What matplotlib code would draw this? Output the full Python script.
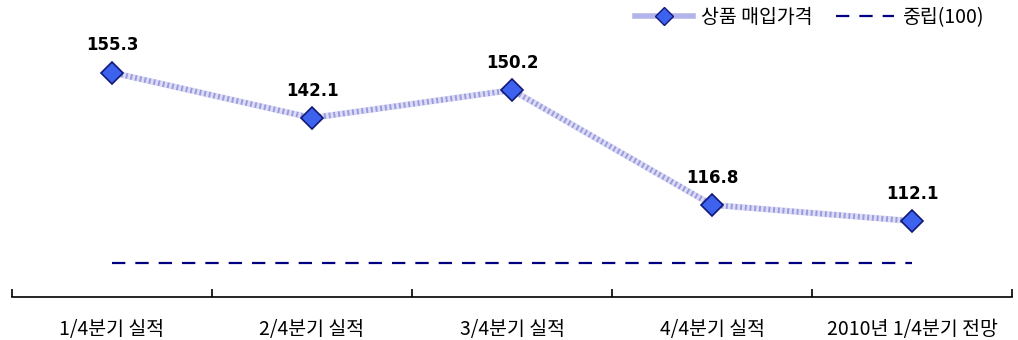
import numpy as np
import matplotlib.pyplot as plt
from matplotlib.lines import Line2D

plt.rcParams['font.family'] = ['Noto Sans CJK KR', 'DejaVu Sans']

categories = ['1/4분기 실적', '2/4분기 실적', '3/4분기 실적', '4/4분기 실적', '2010년 1/4분기 전망']
price_index = [155.3, 142.1, 150.2, 116.8, 112.1]
neutral = [100, 100, 100, 100, 100]

fig = plt.figure(figsize=(10.18, 3.40), dpi=100)
ax = fig.add_axes([12 / 1018, 43 / 340, 1000 / 1018, 275 / 340])

x = np.arange(len(categories))

# pale base + dotted texture on top, then markers
ax.plot(x, price_index, color='#dcdcf5', lw=4.5, solid_capstyle='butt', zorder=2)
ax.plot(x, price_index, color='#9a9ade', lw=4, ls=(0, (0.35, 0.5)), zorder=2)
ax.plot(x, price_index, ls='none', marker='D', ms=11.5, mfc='#3d63ee', mec='#10187a', mew=1.2, zorder=3)
ax.plot(x, neutral, color='#000080', lw=1.6, ls=(0, (6, 4.5)), zorder=2)

for xi, v in zip(x, price_index):
    ax.annotate(f'{v:.1f}', (xi, v), xytext=(0, 13), textcoords='offset points',
                ha='center', va='bottom', fontsize=12, fontweight='bold',
                family=['DejaVu Sans'], color='black')

ax.set_xlim(-0.5, len(categories) - 0.5)
ax.set_ylim(90, 170)

for s in ['left', 'right', 'top']:
    ax.spines[s].set_visible(False)
ax.spines['bottom'].set_linewidth(1.2)
ax.set_yticks([])

ax.set_xticks(np.arange(-0.5, len(categories), 1.0))
ax.set_xticklabels([])
ax.tick_params(axis='x', which='major', direction='in', length=6, width=1.2)
ax.set_xticks(x, minor=True)
ax.set_xticklabels(categories, minor=True, fontsize=14)
ax.tick_params(axis='x', which='minor', length=0, pad=16)

# legend
h1 = Line2D([], [], color='#b4b4ea', lw=4, marker='D', ms=9, mfc='#3d63ee', mec='#10187a')
h2 = Line2D([], [], color='#000080', lw=1.6, ls=(0, (6, 4.5)))
fig.legend([h1, h2], ['상품 매입가격', '중립(100)'], loc='upper right',
           bbox_to_anchor=(0.983, 1.03), ncol=2, frameon=False, fontsize=14,
           handlelength=3.0, columnspacing=1.2, handletextpad=0.4)

fig.savefig('out.png', dpi=100)
